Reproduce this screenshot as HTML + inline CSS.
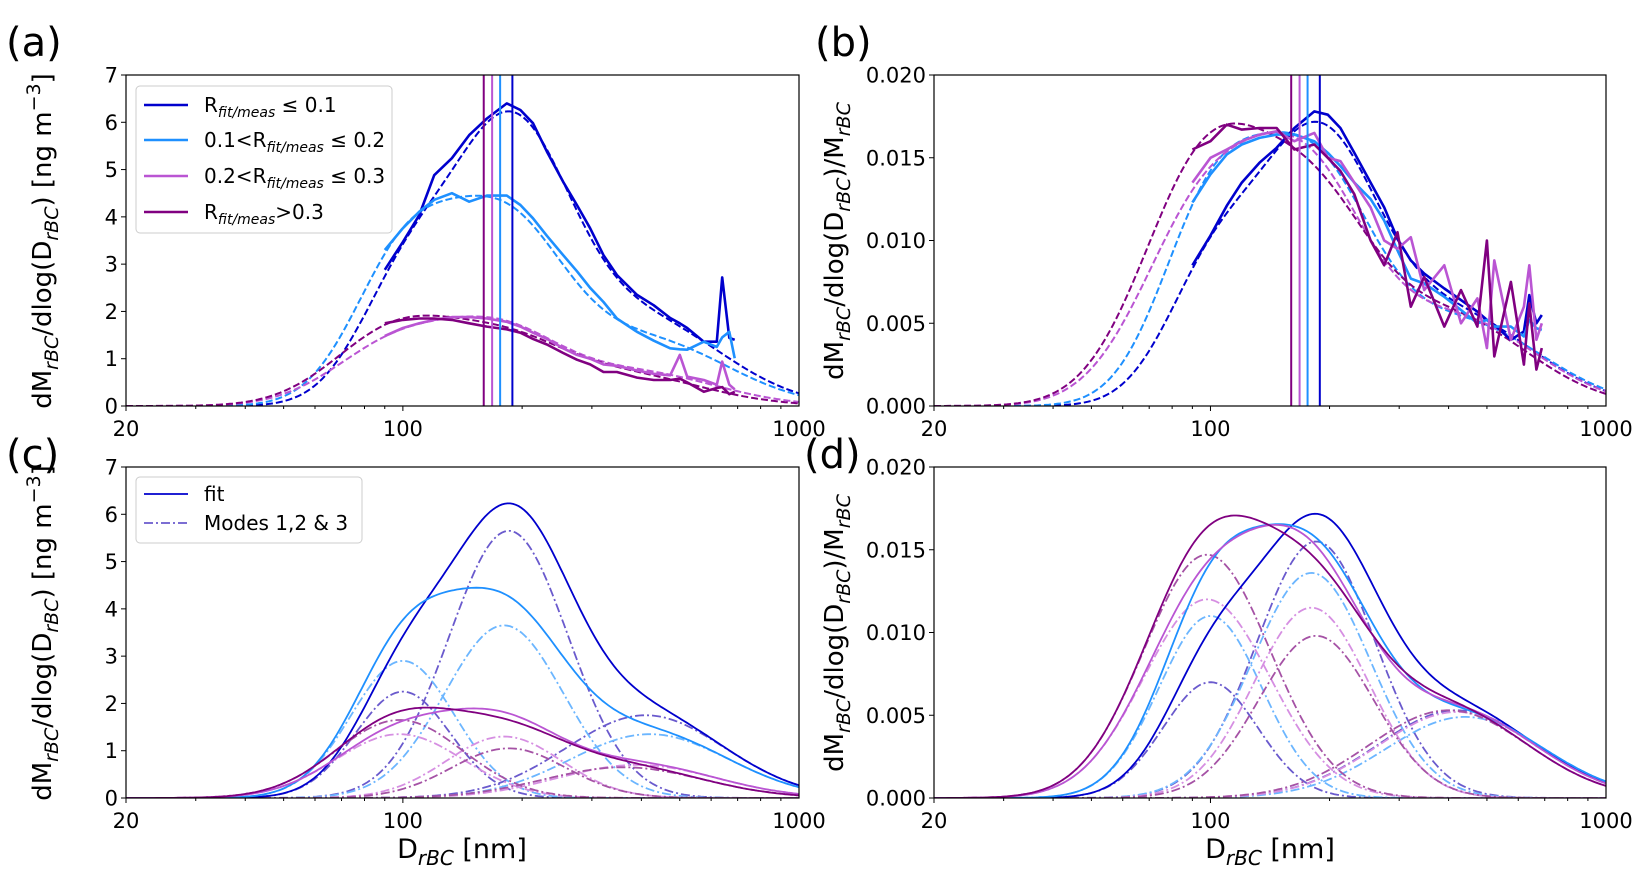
<!DOCTYPE html>
<html><head><meta charset="utf-8">
<style>
html,body{margin:0;padding:0;background:#fff;}
svg{display:block;font-family:"DejaVu Sans","Liberation Sans",sans-serif;}
</style></head>
<body>
<svg id="fig" width="1643" height="877" viewBox="0 0 1643 877" xmlns="http://www.w3.org/2000/svg">
<defs>
<clipPath id="clipA"><rect x="126" y="75" width="673" height="331"/></clipPath>
<clipPath id="clipB"><rect x="934" y="75" width="672" height="331"/></clipPath>
<clipPath id="clipC"><rect x="126" y="467" width="673" height="331"/></clipPath>
<clipPath id="clipD"><rect x="934" y="467" width="672" height="331"/></clipPath>
</defs>
<g id="root"></g>
</svg>
<script>
// ---- data ----
const seriesNames = ["R<=0.1","0.1<R<=0.2","0.2<R<=0.3","R>0.3"];
const xTickLabels = ["20","100","1000"];
const xTickValues = [20,100,1000];
const yTicksMass = [0,1,2,3,4,5,6,7];
const yTicksNorm = [0,0.005,0.010,0.015,0.020];
const yTickLabelsNorm = ["0.000","0.005","0.010","0.015","0.020"];
const medianDiam = [189,176,168,160];

// fit modes (panel c, ng m-3)
const cAmpBlue = [2.25,5.65,1.75], cCtrBlue = [100,185,410];
const cAmpLBlue = [2.9,3.65,1.35], cCtrLBlue = [100,180,420];
const cAmpViolet = [1.35,1.3,0.7], cCtrViolet = [98,180,390];
const cAmpPurple = [1.65,1.05,0.65], cCtrPurple = [98,185,360];
// fit modes (panel d, normalised)
const dAmpBlue = [0.007,0.0155,0.0053], dCtrBlue = [100,185,420];
const dAmpLBlue = [0.011,0.0136,0.0049], dCtrLBlue = [100,180,440];
const dAmpViolet = [0.012,0.0115,0.0052], dCtrViolet = [98,180,420];
const dAmpPurple = [0.0147,0.0098,0.0053], dCtrPurple = [98,185,400];
// mode widths (log10 sigma) per series
const sigBlue = [0.12,0.15,0.2];
const sigLBlue = [0.13,0.15,0.2];
const sigViolet = [0.16,0.145,0.2];
const sigPurple = [0.16,0.145,0.2];

// measured (panels a, b)
const measD = [90,100,110,120,133,147,163,183,198,213,231,254,275,297,321,347,390,430,473,500,522,575,620,640,667,688];
const aBlue = [2.88,3.47,4.04,4.88,5.24,5.73,6.08,6.40,6.26,5.98,5.38,4.74,4.25,3.76,3.19,2.77,2.35,2.13,1.86,1.75,1.65,1.36,1.36,2.72,1.44,1.40];
const aLBlue = [3.30,3.76,4.11,4.36,4.50,4.32,4.45,4.45,4.25,3.97,3.60,3.19,2.85,2.50,2.20,1.85,1.57,1.38,1.22,1.20,1.19,1.36,1.25,1.45,1.57,1.01];
const aViolet = [1.48,1.65,1.75,1.82,1.88,1.88,1.85,1.78,1.68,1.55,1.42,1.22,1.08,1.00,0.88,0.85,0.75,0.68,0.65,1.08,0.62,0.55,0.45,0.94,0.45,0.35];
const aPurple = [1.75,1.82,1.85,1.85,1.82,1.75,1.68,1.62,1.55,1.42,1.30,1.12,0.98,0.88,0.72,0.72,0.60,0.55,0.55,0.58,0.50,0.30,0.38,0.40,0.25,0.30];
const bBlue = [0.0085,0.0103,0.0121,0.0135,0.0147,0.0156,0.0168,0.0178,0.0176,0.0168,0.0153,0.0135,0.0120,0.0101,0.0088,0.0080,0.0071,0.0064,0.0057,0.0052,0.0049,0.0040,0.0045,0.0067,0.0050,0.0055];
const bLBlue = [0.0123,0.0140,0.0152,0.0158,0.0162,0.0164,0.0164,0.0160,0.0153,0.0145,0.0135,0.0125,0.0112,0.0094,0.0077,0.0074,0.0066,0.0058,0.0050,0.0052,0.0048,0.0048,0.0042,0.0052,0.0047,0.0046];
const bViolet = [0.0135,0.0150,0.0155,0.0160,0.0164,0.0166,0.0160,0.0165,0.0150,0.0148,0.0135,0.0120,0.0100,0.0095,0.0102,0.0070,0.0085,0.0050,0.0065,0.0035,0.0088,0.0040,0.0060,0.0085,0.0040,0.0050];
const bPurple = [0.0155,0.0160,0.0170,0.0167,0.0168,0.0168,0.0155,0.0158,0.0150,0.0142,0.0128,0.0100,0.0085,0.0105,0.0060,0.0078,0.0048,0.0070,0.0048,0.0100,0.0030,0.0075,0.0025,0.0062,0.0022,0.0035];

// ---- rendering ----
const NS = "http://www.w3.org/2000/svg";
const root = document.getElementById("root");
const colors = ["#0000cd","#1e90ff","#ba55d3","#800080"];
const modeColors = ["#6a5acd","#6cb6ff","#d68fe2","#a552a5"];
const sigmas = [sigBlue,sigLBlue,sigViolet,sigPurple];
const P = {
  a:{x0:126,x1:799,y0:75,y1:406,ymax:7,clip:"clipA"},
  b:{x0:934,x1:1606,y0:75,y1:406,ymax:0.02,clip:"clipB"},
  c:{x0:126,x1:799,y0:467,y1:798,ymax:7,clip:"clipC"},
  d:{x0:934,x1:1606,y0:467,y1:798,ymax:0.02,clip:"clipD"}
};
function xpx(p,D){return p.x0+(p.x1-p.x0)*Math.log10(D/20)/Math.log10(50);}
function ypx(p,v){return p.y1-(p.y1-p.y0)*v/p.ymax;}
function mk(tag,attrs,parent){const e=document.createElementNS(NS,tag);for(const k in attrs)e.setAttribute(k,attrs[k]);(parent||root).appendChild(e);return e;}
function modeVal(a,c,s,D){return a*Math.exp(-Math.pow(Math.log10(D/c),2)/(2*s*s));}
const grid=[];for(let i=0;i<=240;i++)grid.push(20*Math.pow(50,i/240));
function curvePath(p,fn){return grid.map((D,i)=>(i?"L":"M")+xpx(p,D).toFixed(1)+","+ypx(p,fn(D)).toFixed(1)).join("");}
function dataPath(p,xs,ys){return xs.map((D,i)=>(i?"L":"M")+xpx(p,D).toFixed(1)+","+ypx(p,ys[i]).toFixed(1)).join("");}

function drawAxes(key,yt,ytl){
  const p=P[key];
  const g=mk("g",{});
  
  
  for(const dec of [10,100]){for(let m=1;m<10;m++){const D=dec*m;if(D<20||D>1000)continue;
    const x=xpx(p,D);const major=(D===100||D===1000||D===20);
    const t=mk("line",{x1:x,x2:x,y1:p.y1,y2:p.y1+(major?5:3),stroke:"#000","stroke-width":1},g);
    
    }}
  xTickValues.forEach((v,i)=>{const t=mk("text",{x:xpx(p,v),y:p.y1+30,"font-size":21,"text-anchor":"middle",fill:"#000"},g);t.textContent=xTickLabels[i];
    
    });
  yt.forEach((v,i)=>{const y=ypx(p,v);
    const t=mk("line",{x1:p.x0-5,x2:p.x0,y1:y,y2:y,stroke:"#000","stroke-width":1},g);
    
    
    const l=mk("text",{x:p.x0-8,y:y+7.5,"font-size":21,"text-anchor":"end",fill:"#000"},g);l.textContent=ytl[i];
    
    });
  return g;
}
function frame(key){const p=P[key];const r=mk("rect",{x:p.x0,y:p.y0,width:p.x1-p.x0,height:p.y1-p.y0,fill:"none",stroke:"#000","stroke-width":1.2});
  
  }

const cAmps=[cAmpBlue,cAmpLBlue,cAmpViolet,cAmpPurple], cCtrs=[cCtrBlue,cCtrLBlue,cCtrViolet,cCtrPurple];
const dAmps=[dAmpBlue,dAmpLBlue,dAmpViolet,dAmpPurple], dCtrs=[dCtrBlue,dCtrLBlue,dCtrViolet,dCtrPurple];
const aMeas=[aBlue,aLBlue,aViolet,aPurple], bMeas=[bBlue,bLBlue,bViolet,bPurple];
function total(amps,ctrs,sg){return D=>amps.reduce((s,a,i)=>s+modeVal(a,ctrs[i],sg[i],D),0);}

["a","b","c","d"].forEach(k=>{const norm=(k==="b"||k==="d");
  drawAxes(k, norm?yTicksNorm:yTicksMass, norm?yTickLabelsNorm:yTicksMass.map(String));});

[["a",cAmps,cCtrs,aMeas],["b",dAmps,dCtrs,bMeas]].forEach(([k,amps,ctrs,meas])=>{
  const p=P[k];const g=mk("g",{"clip-path":"url(#"+p.clip+")"});
  
  
  for(let s=0;s<4;s++){
    const f=mk("path",{d:curvePath(p,total(amps[s],ctrs[s],sigmas[s])),fill:"none",stroke:colors[s],"stroke-width":2,"stroke-dasharray":"7,3"},g);
    
    
  }
  for(let s=0;s<4;s++){
    const m=mk("path",{d:dataPath(p,measD,meas[s]),fill:"none",stroke:colors[s],"stroke-width":2.6,"stroke-linejoin":"round"},g);
    
    
  }
  for(let s=0;s<4;s++){const x=xpx(p,medianDiam[s]);
    const v=mk("line",{x1:x,x2:x,y1:p.y0,y2:p.y1,stroke:colors[s],"stroke-width":2},g);
    
    }
});
[["c",cAmps,cCtrs],["d",dAmps,dCtrs]].forEach(([k,amps,ctrs])=>{
  const p=P[k];const g=mk("g",{"clip-path":"url(#"+p.clip+")"});
  
  
  for(let s=0;s<4;s++){for(let m=0;m<3;m++){
    const a=amps[s][m],c=ctrs[s][m],sg=sigmas[s][m];
    const e=mk("path",{d:curvePath(p,D=>modeVal(a,c,sg,D)),fill:"none",stroke:modeColors[s],"stroke-width":1.8,"stroke-dasharray":"9,3,2,3"},g);
    
    }}
  for(let s=0;s<4;s++){
    const f=mk("path",{d:curvePath(p,total(amps[s],ctrs[s],sigmas[s])),fill:"none",stroke:colors[s],"stroke-width":1.8},g);
    
    }
});
["a","b","c","d"].forEach(frame);
</script>

<svg width="1643" height="877" style="position:absolute;left:0;top:0" font-family="DejaVu Sans, Liberation Sans, sans-serif">
<text x="6" y="56" font-size="40">(a)</text>
<text x="815" y="56" font-size="40">(b)</text>
<text x="6" y="468" font-size="40">(c)</text>
<text x="804" y="468" font-size="40">(d)</text>

<text transform="translate(51,241) rotate(-90)" font-size="26" text-anchor="middle">dM<tspan font-size="19" font-style="italic" dy="7">rBC</tspan><tspan dy="-7">/dlog(D</tspan><tspan font-size="19" font-style="italic" dy="7">rBC</tspan><tspan dy="-7">) [ng m</tspan><tspan font-size="19" dy="-11">−3</tspan><tspan dy="11">]</tspan></text>
<text transform="translate(51,633) rotate(-90)" font-size="26" text-anchor="middle">dM<tspan font-size="19" font-style="italic" dy="7">rBC</tspan><tspan dy="-7">/dlog(D</tspan><tspan font-size="19" font-style="italic" dy="7">rBC</tspan><tspan dy="-7">) [ng m</tspan><tspan font-size="19" dy="-11">−3</tspan><tspan dy="11">]</tspan></text>
<text transform="translate(843,241) rotate(-90)" font-size="26" text-anchor="middle">dM<tspan font-size="19" font-style="italic" dy="7">rBC</tspan><tspan dy="-7">/dlog(D</tspan><tspan font-size="19" font-style="italic" dy="7">rBC</tspan><tspan dy="-7">)/M</tspan><tspan font-size="19" font-style="italic" dy="7">rBC</tspan></text>
<text transform="translate(843,633) rotate(-90)" font-size="26" text-anchor="middle">dM<tspan font-size="19" font-style="italic" dy="7">rBC</tspan><tspan dy="-7">/dlog(D</tspan><tspan font-size="19" font-style="italic" dy="7">rBC</tspan><tspan dy="-7">)/M</tspan><tspan font-size="19" font-style="italic" dy="7">rBC</tspan></text>

<text x="462" y="858" font-size="27" text-anchor="middle">D<tspan font-size="20" font-style="italic" dy="7">rBC</tspan><tspan dy="-7"> [nm]</tspan></text>
<text x="1270" y="858" font-size="27" text-anchor="middle">D<tspan font-size="20" font-style="italic" dy="7">rBC</tspan><tspan dy="-7"> [nm]</tspan></text>

<g>
<rect x="136" y="86" width="256" height="147" rx="4" fill="#fff" fill-opacity="0.8" stroke="#ccc" stroke-width="1"/>
<g><line x1="144" x2="188" y1="105" y2="105" stroke="#0000cd" stroke-width="2.6"/><text x="204" y="112" font-size="20">R<tspan font-size="14" font-style="italic" dy="5">fit/meas</tspan><tspan dy="-5"> ≤ 0.1</tspan></text></g>
<g><line x1="144" x2="188" y1="140" y2="140" stroke="#1e90ff" stroke-width="2.6"/><text x="204" y="147" font-size="20">0.1&lt;R<tspan font-size="14" font-style="italic" dy="5">fit/meas</tspan><tspan dy="-5"> ≤ 0.2</tspan></text></g>
<g><line x1="144" x2="188" y1="176" y2="176" stroke="#ba55d3" stroke-width="2.6"/><text x="204" y="183" font-size="20">0.2&lt;R<tspan font-size="14" font-style="italic" dy="5">fit/meas</tspan><tspan dy="-5"> ≤ 0.3</tspan></text></g>
<g><line x1="144" x2="188" y1="212" y2="212" stroke="#800080" stroke-width="2.6"/><text x="204" y="219" font-size="20">R<tspan font-size="14" font-style="italic" dy="5">fit/meas</tspan><tspan dy="-5">&gt;0.3</tspan></text></g>
</g>
<g>
<rect x="136" y="477" width="226" height="66" rx="4" fill="#fff" fill-opacity="0.8" stroke="#ccc" stroke-width="1"/>
<g><line x1="144" x2="188" y1="494" y2="494" stroke="#0000cd" stroke-width="1.8"/><text x="204" y="501" font-size="20">fit</text></g>
<g><line x1="144" x2="188" y1="523" y2="523" stroke="#6a5acd" stroke-width="1.8" stroke-dasharray="9,3,2,3"/><text x="204" y="530" font-size="20">Modes 1,2 &amp; 3</text></g>
</g>
</svg>
</body></html>
